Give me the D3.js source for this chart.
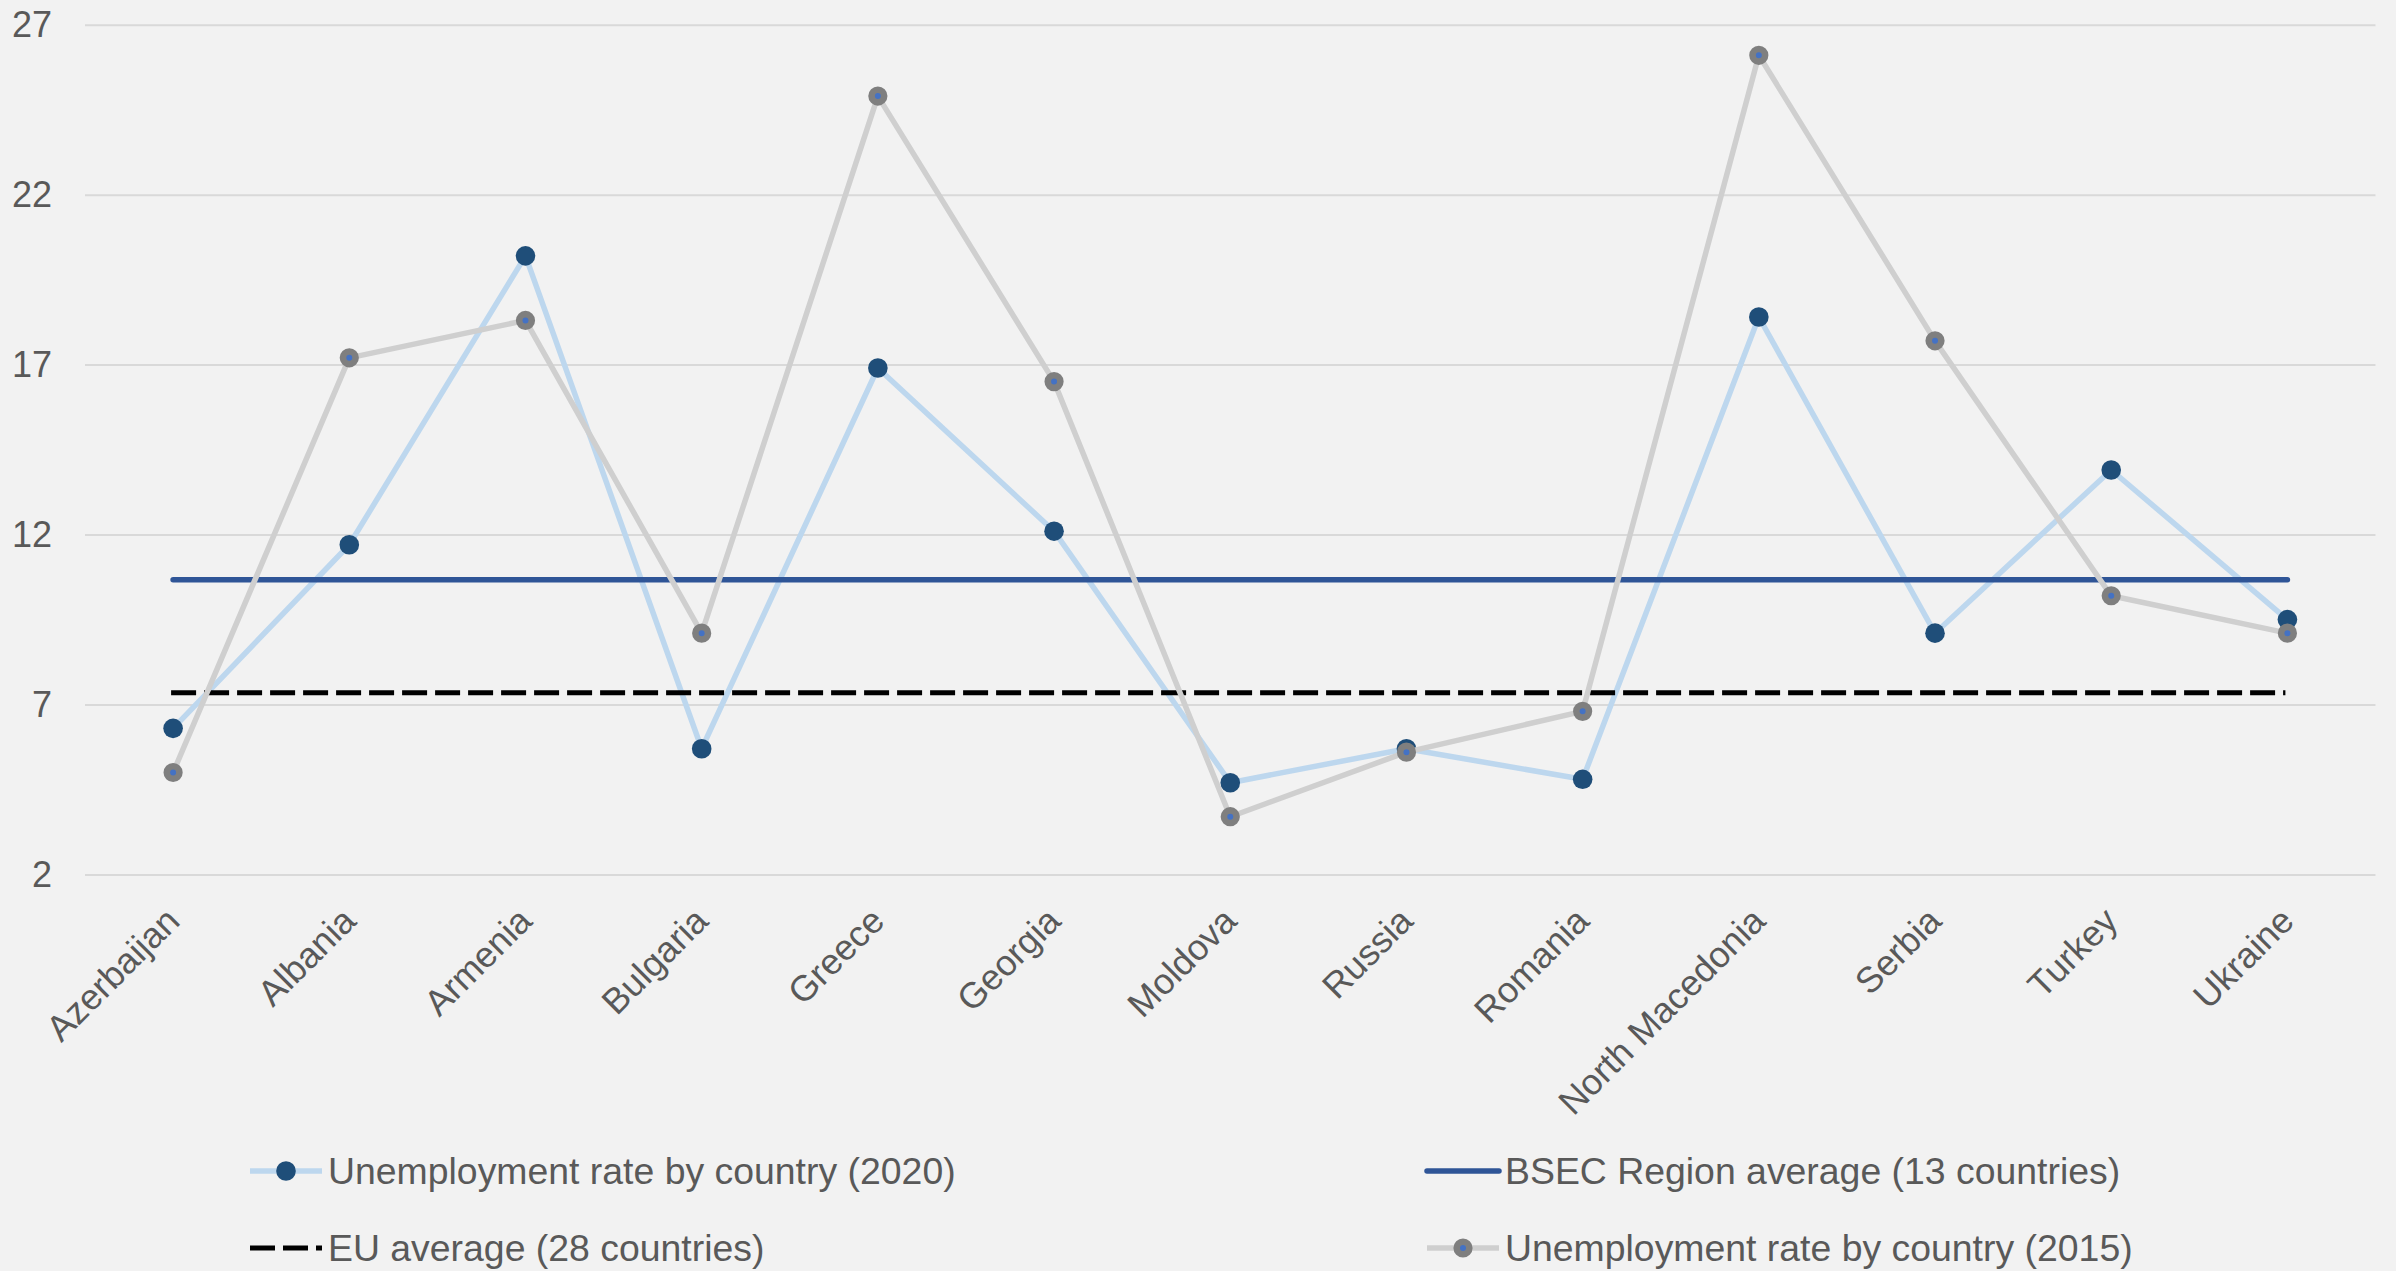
<!DOCTYPE html>
<html>
<head>
<meta charset="utf-8">
<script src="https://cdn.jsdelivr.net/npm/d3@7"></script>
<style>
    body { margin: 0; background: #f2f2f2; }
    text { font-family: "Liberation Sans", Arial, sans-serif; fill: #595959; }
</style>
</head>
<body>
<div id="unemployment_chart"></div>
<script>
/******************************************************************************
 * Data
 *****************************************************************************/

var countries = ['Azerbaijan', 'Albania', 'Armenia', 'Bulgaria', 'Greece', 'Georgia',
    'Moldova', 'Russia', 'Romania', 'North Macedonia', 'Serbia', 'Turkey', 'Ukraine'];

// Unemployment rate by country, %
var rate2020 = [6.3, 11.7, 20.2, 5.7, 16.9, 12.1, 4.7, 5.7, 4.8, 18.4, 9.1, 13.9, 9.5];
var rate2015 = [5.0, 17.2, 18.3, 9.1, 24.9, 16.5, 3.7, 5.6, 6.8, 26.1, 17.7, 10.2, 9.1];

// Averages
var bsecAverage = 10.67;
var euAverage = 7.35;

var yTicks = [2, 7, 12, 17, 22, 27];

var legendLabels = ['Unemployment rate by country (2020)', 'BSEC Region average (13 countries)',
    'EU average (28 countries)', 'Unemployment rate by country (2015)'];

/******************************************************************************
 * Setup
 *****************************************************************************/

var fullWidth = 2396;
var fullHeight = 1271;
var plot = { left: 85, right: 2375.5, top: 24.7, bottom: 874.5 };

var colors = {
    line2020: '#bdd7ee',
    dot2020: '#1f4e79',
    bsec: '#2f5597',
    eu: '#000000',
    line2015: '#cfcfcf',
    dot2015: '#7f7f7f',
    dotCenter2015: '#4472c4'
};

var svg = d3.select('#unemployment_chart').append('svg')
    .attr('width', fullWidth)
    .attr('height', fullHeight);

svg.append('rect')
    .attr('width', fullWidth)
    .attr('height', fullHeight)
    .attr('fill', '#f2f2f2');

var xScale = d3.scalePoint()
    .domain(countries)
    .range([plot.left, plot.right])
    .padding(0.5);

var yScale = d3.scaleLinear()
    .domain([2, 27])
    .range([plot.bottom, plot.top]);

/******************************************************************************
 * Axes and gridlines
 *****************************************************************************/

var yAxis = d3.axisLeft(yScale)
    .tickValues(yTicks)
    .tickSize(-(plot.right - plot.left))
    .tickPadding(33);

var yAxisEle = svg.append('g')
    .attr('transform', 'translate(' + plot.left + ',0)')
    .call(yAxis);

yAxisEle.select('.domain').remove();
yAxisEle.selectAll('.tick line')
    .attr('stroke', '#d9d9d9')
    .attr('stroke-width', 2);
yAxisEle.selectAll('.tick text')
    .style('font-size', '36px')
    .attr('fill', '#595959');

var xAxis = d3.axisBottom(xScale).tickSize(0);

var xAxisEle = svg.append('g')
    .attr('transform', 'translate(0,' + plot.bottom + ')')
    .call(xAxis);

xAxisEle.select('.domain').remove();
xAxisEle.selectAll('.tick text')
    .style('font-size', '36px')
    .attr('fill', '#595959')
    .attr('text-anchor', 'end')
    .attr('dy', 0)
    .attr('y', 0)
    .attr('transform', 'translate(8,48.5) rotate(-45)');

/******************************************************************************
 * Series
 *****************************************************************************/

var lineGen = d3.line()
    .x(function (d, i) { return xScale(countries[i]); })
    .y(function (d) { return yScale(d); });

// 2020 line with markers
svg.append('path')
    .datum(rate2020)
    .attr('d', lineGen)
    .attr('fill', 'none')
    .attr('stroke', colors.line2020)
    .attr('stroke-width', 5.5)
    .attr('stroke-linejoin', 'round');

svg.append('g').selectAll('circle')
    .data(rate2020).enter()
    .append('circle')
    .attr('cx', function (d, i) { return xScale(countries[i]); })
    .attr('cy', function (d) { return yScale(d); })
    .attr('r', 9.8)
    .attr('fill', colors.dot2020);

// BSEC average
var firstX = xScale(countries[0]);
var lastX = xScale(countries[countries.length - 1]);

svg.append('line')
    .attr('x1', firstX)
    .attr('x2', lastX)
    .attr('y1', yScale(bsecAverage))
    .attr('y2', yScale(bsecAverage))
    .attr('stroke', colors.bsec)
    .attr('stroke-width', 5.5)
    .attr('stroke-linecap', 'round');

// EU average
svg.append('line')
    .attr('x1', firstX - 2)
    .attr('x2', lastX - 2)
    .attr('y1', yScale(euAverage))
    .attr('y2', yScale(euAverage))
    .attr('stroke', colors.eu)
    .attr('stroke-width', 5)
    .attr('stroke-dasharray', '25,8');

// 2015 line with markers
svg.append('path')
    .datum(rate2015)
    .attr('d', lineGen)
    .attr('fill', 'none')
    .attr('stroke', colors.line2015)
    .attr('stroke-width', 5.5)
    .attr('stroke-linejoin', 'round');

svg.append('g').selectAll('circle')
    .data(rate2015).enter()
    .append('circle')
    .attr('cx', function (d, i) { return xScale(countries[i]); })
    .attr('cy', function (d) { return yScale(d); })
    .attr('r', 6.3)
    .attr('fill', colors.dotCenter2015)
    .attr('stroke', colors.dot2015)
    .attr('stroke-width', 6.6);

/******************************************************************************
 * Legend
 *****************************************************************************/

var legendCols = [250, 1427];
var legendRows = [1171, 1248];
var symbolWidth = 72;

var legendItems = legendLabels.map(function (label, i) {
    return { label: label, x: legendCols[i % 2], y: legendRows[Math.floor(i / 2)], kind: i };
});

var legend = svg.append('g').attr('class', 'legend');

var items = legend.selectAll('g.item').data(legendItems).enter()
    .append('g')
    .attr('class', 'item')
    .attr('transform', function (d) { return 'translate(' + d.x + ',' + d.y + ')'; });

items.append('line')
    .attr('x1', 0)
    .attr('x2', symbolWidth)
    .attr('stroke', function (d) {
        return [colors.line2020, colors.bsec, colors.eu, colors.line2015][d.kind];
    })
    .attr('stroke-width', function (d) { return d.kind == 2 ? 5 : 5.5; })
    .attr('stroke-dasharray', function (d) { return d.kind == 2 ? '25,8' : null; })
    .attr('stroke-linecap', function (d) { return d.kind == 1 ? 'round' : 'butt'; });

items.filter(function (d) { return d.kind == 0; })
    .append('circle')
    .attr('cx', symbolWidth / 2)
    .attr('r', 9.8)
    .attr('fill', colors.dot2020);

items.filter(function (d) { return d.kind == 3; })
    .append('circle')
    .attr('cx', symbolWidth / 2)
    .attr('r', 6.3)
    .attr('fill', colors.dotCenter2015)
    .attr('stroke', colors.dot2015)
    .attr('stroke-width', 6.6);

items.append('text')
    .attr('x', symbolWidth + 6)
    .attr('dy', '0.35em')
    .style('font-size', '37.4px')
    .text(function (d) { return d.label; });
</script>
</body>
</html>
